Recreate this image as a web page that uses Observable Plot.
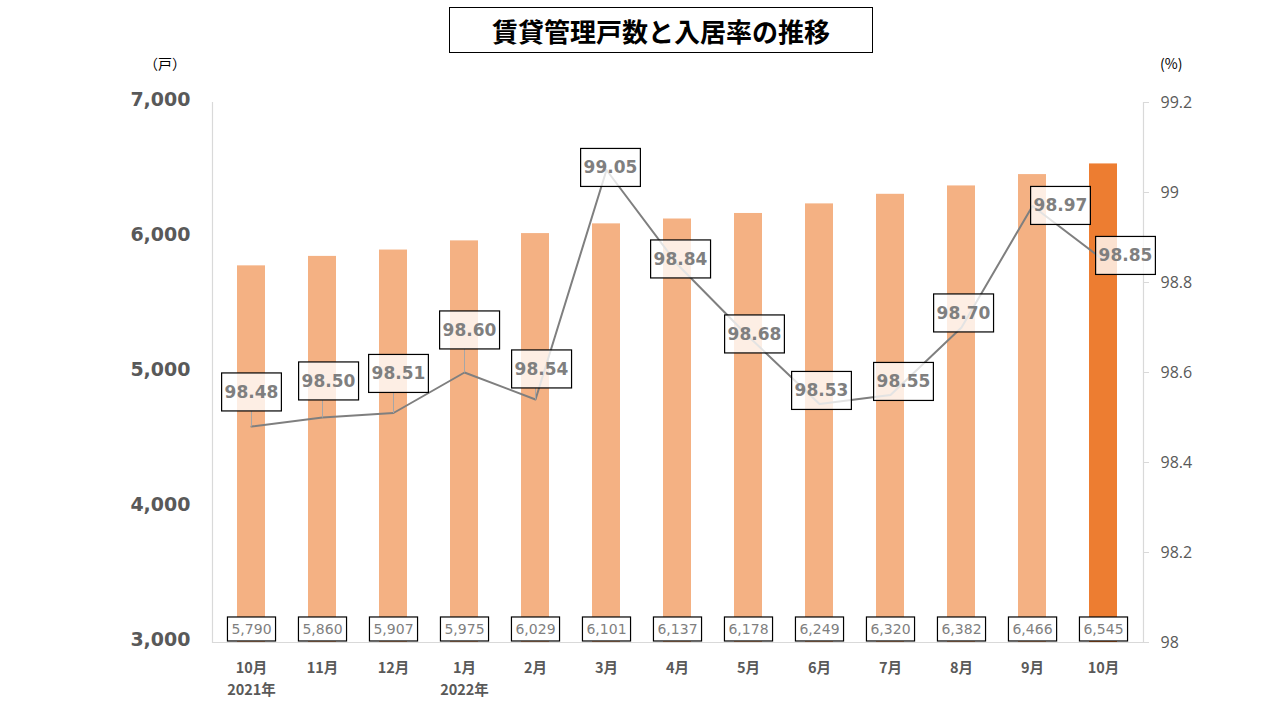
<!DOCTYPE html>
<html>
<head>
<meta charset="utf-8">
<script src="https://cdn.jsdelivr.net/npm/d3@7"></script>
<script src="https://cdn.jsdelivr.net/npm/@observablehq/plot@0.6"></script>
<style>
  body { margin: 0; background: #fff; }
  #wrap { position: relative; width: 1280px; height: 720px; font-family: "Noto Sans CJK JP", sans-serif; overflow: hidden; }
  #wrap svg { position: absolute; left: 0; top: 0; display: block; }
  #title { position: absolute; left: 449px; top: 7px; width: 424px; height: 46px; box-sizing: border-box;
           border: 1.3px solid #000; display: flex; align-items: center; justify-content: center;
           font-size: 26px; font-weight: bold; color: #000; z-index: 2; background: #fff; }
  .unit { position: absolute; top: 53px; font-size: 14px; color: #000; z-index: 2; }
</style>
</head>
<body>
<div id="wrap">
  <div id="title">賃貸管理戸数と入居率の推移</div>
  <div class="unit" style="left:144px">（戸）</div>
  <div class="unit" style="left:1160px">(%)</div>
</div>
<script>
// ---- data ----
const months = ["10月","11月","12月","1月","2月","3月","4月","5月","6月","7月","8月","9月","10月"];
const years  = ["2021年","","","2022年","","","","","","","","",""];
const units  = [5790,5860,5907,5975,6029,6101,6137,6178,6249,6320,6382,6466,6545];
const rates  = [98.48,98.50,98.51,98.60,98.54,99.05,98.84,98.68,98.53,98.55,98.70,98.97,98.85];
const leftTicks  = [3000,4000,5000,6000,7000];
const rightTicks = [98,98.2,98.4,98.6,98.8,99,99.2];
const currentIndex = 12;
// label nudges (px) for rate labels, as placed in the original chart
const rateLabelNudge = [[0,-34],[6,-36],[5,-39],[5,-42],[6,-30],[4,-2],[3,-5],[6,-2],[2,-13],[13,-13],[2,-14],[28,0],[22,-4]];

// ---- scales ----
const leftDomain = [3000, 7000];
const rightDomain = [98, 99.2];
const toLeft = r => leftDomain[0] + (r - rightDomain[0]) / (rightDomain[1] - rightDomain[0]) * (leftDomain[1] - leftDomain[0]);
const toRight = v => rightDomain[0] + (v - leftDomain[0]) / (leftDomain[1] - leftDomain[0]) * (rightDomain[1] - rightDomain[0]);

const data = months.map((m, i) => ({i, month: m, year: years[i], units: units[i], rate: rates[i], current: i === currentIndex}));
const gray = "#7F7F7F";
const axisGray = "#D9D9D9";
const labelGray = "#595959";

const marks = [
  Plot.barY(data, {x: "i", y1: leftDomain[0], y2: "units", fill: d => d.current ? "#ED7D31" : "#F4B183"}),
  Plot.ruleY([leftDomain[0]], {stroke: axisGray, strokeWidth: 1.2}),
  Plot.frame({anchor: "left", stroke: axisGray, strokeWidth: 1.2}),
  Plot.frame({anchor: "right", stroke: axisGray, strokeWidth: 1.2}),
  Plot.axisY(leftTicks, {anchor: "left", label: null, tickSize: 0, tickPadding: 22, tickFormat: d3.format(","),
    fontSize: 19, fontWeight: "bold", fill: labelGray, fontFamily: "DejaVu Sans", dy: -3}),
  Plot.axisY(rightTicks.map(toLeft), {anchor: "right", label: null, tickSize: 5, tickPadding: 12, stroke: axisGray,
    tickFormat: v => String(+toRight(v).toFixed(1)), fontSize: 16, fill: labelGray, fontFamily: "Open Sans"}),
  Plot.axisX(d3.range(months.length), {anchor: "bottom", label: null, tickSize: 0, tickPadding: 15,
    tickFormat: i => years[i] ? months[i] + "\n" + years[i] : months[i],
    fontSize: 14.5, fontWeight: "bold", fill: labelGray, lineHeight: 1.5}),
  Plot.line(data, {x: "i", y: d => toLeft(d.rate), stroke: gray, strokeWidth: 2}),
  Plot.text(data, {x: "i", y: leftDomain[0], dy: -13, text: d => d3.format(",")(d.units), className: "unitlab",
    fontSize: 14, fill: gray, fontFamily: "DejaVu Sans"}),
  ...data.map((d, k) => Plot.text([d], {x: "i", y: dd => toLeft(dd.rate), text: dd => dd.rate.toFixed(2),
    dx: rateLabelNudge[k][0], dy: rateLabelNudge[k][1], className: "ratelab",
    fontSize: 17, fontWeight: "bold", fill: gray, fontFamily: "DejaVu Sans"}))
];

const chart = Plot.plot({
  width: 1280, height: 720,
  marginLeft: 212, marginRight: 137, marginTop: 102, marginBottom: 78,
  x: {type: "band", domain: d3.range(months.length), paddingInner: 0.6, paddingOuter: 0.3, axis: null},
  y: {domain: leftDomain, axis: null},
  color: {type: "identity"},
  style: {fontFamily: "'Noto Sans CJK JP', sans-serif", background: "transparent", overflow: "visible"},
  marks
});
document.getElementById("wrap").appendChild(chart);

// ---- label boxes (drawn around the Plot-rendered texts) ----
const NS = "http://www.w3.org/2000/svg";
function translateOf(el) {
  const m = /translate\(\s*([-\d.e]+)[ ,]+([-\d.e]+)\s*\)/.exec(el.getAttribute("transform") || "");
  const x = m ? +m[1] : +(el.getAttribute("x") || 0);
  const y = m ? +m[2] : +(el.getAttribute("y") || 0);
  return [x, y];
}
function boxAround(textEl, padX, padY, fill, fillOpacity) {
  const b = textEl.getBBox();
  const [tx, ty] = translateOf(textEl);
  const hasT = !!textEl.getAttribute("transform");
  const ox = hasT ? tx : 0, oy = hasT ? ty : 0;
  const r = document.createElementNS(NS, "rect");
  const box = {x: b.x - padX + ox, y: b.y - padY + oy, w: b.width + 2 * padX, h: b.height + 2 * padY};
  r.setAttribute("x", box.x);
  r.setAttribute("y", box.y);
  r.setAttribute("width", box.w);
  r.setAttribute("height", box.h);
  r.setAttribute("fill", fill);
  r.setAttribute("fill-opacity", fillOpacity);
  r.setAttribute("stroke", "#000");
  r.setAttribute("stroke-width", 1.2);
  textEl.parentNode.insertBefore(r, textEl);
  return {box, tx, ty};
}
chart.querySelectorAll("g.unitlab text").forEach(t => boxAround(t, 4, 4, "#fff", 1));
chart.querySelectorAll("g.ratelab").forEach((g, k) => {
  const t = g.querySelector("text");
  const {box, tx, ty} = boxAround(t, 3, 9, "#fff", 0.78);
  // leader line from the data point to the nearest edge of the box
  const px = tx - rateLabelNudge[k][0];
  const py = ty - rateLabelNudge[k][1];
  const nx = Math.max(box.x, Math.min(px, box.x + box.w));
  const ny = Math.max(box.y, Math.min(py, box.y + box.h));
  if (Math.hypot(px - nx, py - ny) > 4) {
    const l = document.createElementNS(NS, "line");
    l.setAttribute("x1", px); l.setAttribute("y1", py);
    l.setAttribute("x2", nx); l.setAttribute("y2", ny);
    l.setAttribute("stroke", "#A6A6A6"); l.setAttribute("stroke-width", 1);
    g.insertBefore(l, g.firstChild);
  }
});
</script>
</body>
</html>
